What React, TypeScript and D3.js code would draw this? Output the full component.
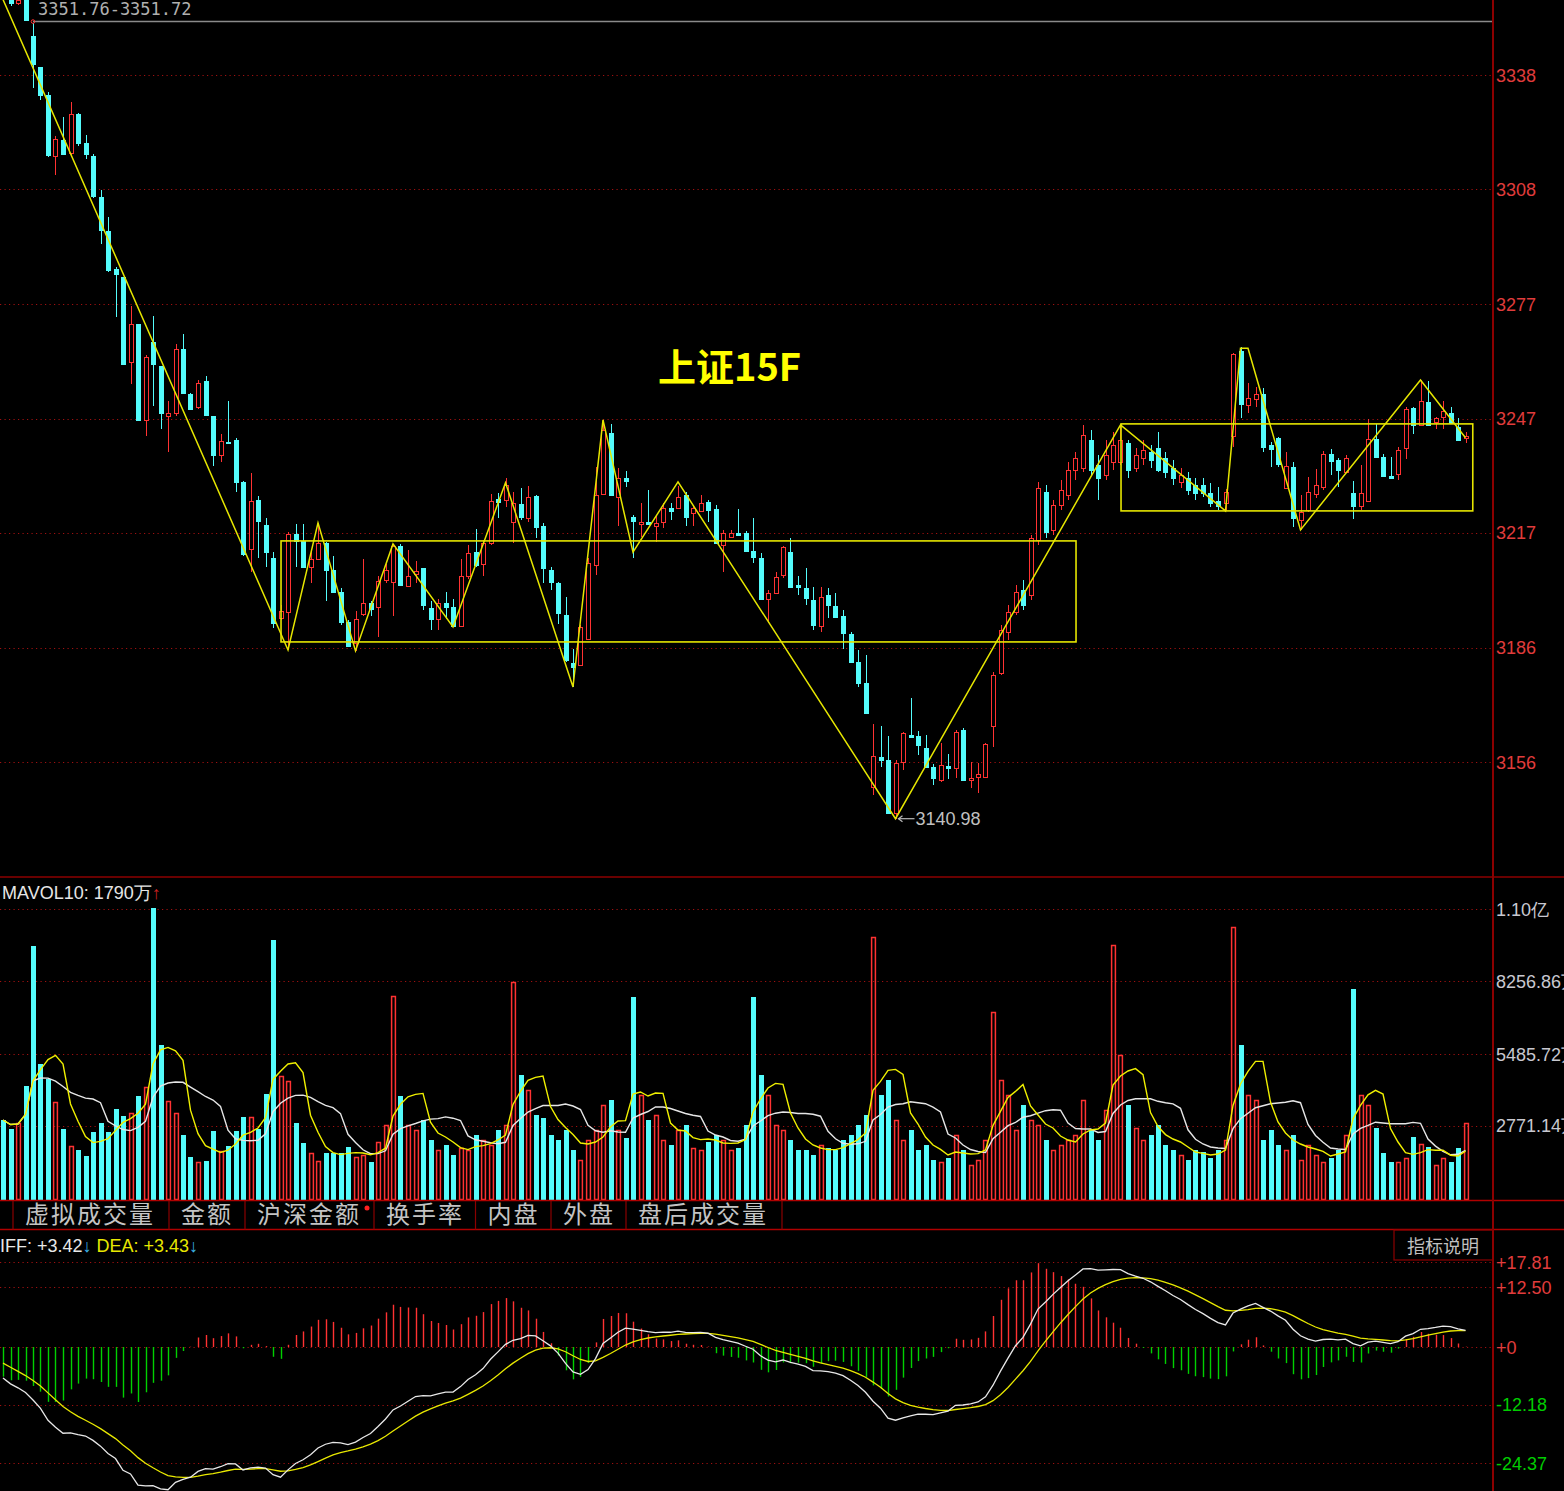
import React, { useEffect } from 'react';
import * as d3 from 'd3';

// ---------------- data ----------------
// [open, high, low, close] per 15-minute bar (index 0 is above the visible area)
const ohlc: [number, number, number, number][] = [
  [3364, 3366, 3359.5, 3361],
  [3358.6, 3359.8, 3356.4, 3357.0], [3357.0, 3358.8, 3356.5, 3357.9], [3359.5, 3360.0, 3352.2, 3352.6],
  [3348.36, 3351.76, 3334.58, 3340.94], [3340.15, 3340.15, 3331.4, 3332.73], [3332.73, 3333.52, 3316.3, 3316.83],
  [3316.56, 3321.87, 3311.53, 3321.07], [3320.8, 3326.91, 3316.83, 3317.09], [3317.36, 3330.87, 3316.83, 3327.7],
  [3327.7, 3327.97, 3319.22, 3320.01], [3320.01, 3322.13, 3315.77, 3317.09], [3316.56, 3317.09, 3305.43, 3305.97],
  [3305.7, 3307.56, 3293.24, 3296.95], [3296.69, 3300.4, 3285.82, 3286.35], [3286.62, 3287.14, 3273.9, 3285.29],
  [3284.5, 3284.5, 3261.2, 3261.46], [3261.99, 3276.83, 3256.16, 3272.06], [3272.06, 3272.06, 3246.37, 3246.63],
  [3246.63, 3263.85, 3242.35, 3263.32], [3267.29, 3274.18, 3250.34, 3261.46], [3260.93, 3260.93, 3244.24, 3248.48],
  [3247.69, 3251.67, 3238.15, 3248.48], [3248.48, 3266.76, 3247.69, 3265.44], [3265.44, 3269.41, 3253.5, 3253.78],
  [3253.51, 3253.78, 3249.28, 3249.54], [3250.07, 3257.22, 3249.54, 3256.43], [3256.96, 3258.28, 3247.7, 3247.96],
  [3247.69, 3247.69, 3234.44, 3237.36], [3237.36, 3242.92, 3235.5, 3241.07], [3240.8, 3251.67, 3240.3, 3240.54],
  [3241.33, 3241.86, 3227.55, 3230.2], [3230.2, 3230.47, 3210.59, 3211.12], [3212.45, 3232.59, 3206.35, 3225.17],
  [3225.43, 3226.49, 3210.06, 3219.87], [3218.81, 3220.66, 3207.68, 3211.65], [3210.06, 3211.65, 3191.52, 3192.85],
  [3194.17, 3197.61, 3193.64, 3196.02], [3195.76, 3216.95, 3185.69, 3216.42], [3216.42, 3219.07, 3207.68, 3214.57],
  [3214.57, 3219.07, 3207.41, 3207.68], [3207.68, 3212.18, 3203.44, 3209.8], [3209.8, 3219.34, 3209.53, 3214.04],
  [3214.04, 3214.3, 3198.67, 3206.88], [3206.88, 3210.59, 3200.79, 3201.05], [3201.05, 3202.11, 3192.31, 3193.11],
  [3193.11, 3193.64, 3186.49, 3186.75], [3187.55, 3196.02, 3185.43, 3193.9], [3195.23, 3209.8, 3194.7, 3198.14],
  [3198.14, 3198.67, 3194.7, 3196.55], [3197.08, 3205.29, 3189.13, 3203.97], [3204.23, 3208.47, 3203.44, 3206.88],
  [3203.7, 3213.77, 3194.7, 3213.24], [3213.24, 3213.77, 3202.64, 3202.91], [3202.64, 3212.18, 3202.4, 3205.29],
  [3205.82, 3209.27, 3203.44, 3206.62], [3207.41, 3207.41, 3196.29, 3197.61], [3196.82, 3198.67, 3190.99, 3193.9],
  [3193.9, 3199.2, 3190.99, 3198.14], [3198.14, 3201.05, 3193.9, 3197.08], [3197.08, 3199.2, 3191.78, 3192.05],
  [3192.05, 3209.8, 3191.78, 3205.29], [3205.29, 3213.51, 3204.5, 3211.39], [3211.65, 3217.74, 3207.68, 3208.21],
  [3208.47, 3214.83, 3205.29, 3214.04], [3214.04, 3227.02, 3213.51, 3225.17], [3225.7, 3227.29, 3220.66, 3224.9],
  [3225.43, 3231.26, 3223.58, 3229.4], [3219.6, 3227.55, 3214.04, 3224.64], [3224.37, 3228.61, 3220.13, 3220.93],
  [3220.66, 3229.14, 3219.6, 3226.23], [3226.49, 3226.76, 3215.36, 3218.28], [3218.54, 3219.34, 3203.44, 3207.41],
  [3206.88, 3207.68, 3201.58, 3203.7], [3203.44, 3203.7, 3192.58, 3195.49], [3194.96, 3199.73, 3182.51, 3183.04],
  [3182.25, 3185.96, 3175.89, 3181.19], [3181.72, 3192.31, 3181.45, 3191.78], [3188.6, 3210.06, 3188.34, 3208.74],
  [3208.21, 3234.18, 3205.56, 3226.76], [3227.02, 3246.63, 3226.76, 3243.98], [3243.19, 3245.57, 3226.49, 3226.76],
  [3226.23, 3233.91, 3218.54, 3231.26], [3231.26, 3233.12, 3228.88, 3230.47], [3220.93, 3221.46, 3210.06, 3219.87],
  [3219.07, 3224.64, 3215.63, 3219.6], [3219.6, 3228.08, 3218.8, 3219.07], [3218.54, 3221.46, 3214.3, 3219.34],
  [3219.6, 3224.64, 3217.95, 3223.31], [3223.31, 3224.64, 3220.13, 3222.52], [3223.31, 3229.14, 3223.05, 3226.23],
  [3226.76, 3227.55, 3218.54, 3220.93], [3221.99, 3224.11, 3218.54, 3223.31], [3222.52, 3226.76, 3222.25, 3224.64],
  [3224.9, 3225.43, 3219.6, 3222.78], [3223.05, 3224.11, 3213.77, 3214.04], [3213.51, 3217.48, 3206.35, 3216.69],
  [3215.63, 3217.48, 3215.36, 3216.69], [3216.69, 3223.05, 3215.9, 3216.16], [3216.69, 3217.22, 3211.65, 3211.92],
  [3211.92, 3220.66, 3208.74, 3210.33], [3210.06, 3211.39, 3198.94, 3199.2], [3199.2, 3201.58, 3192.85, 3200.79],
  [3200.79, 3206.35, 3200.5, 3205.03], [3205.56, 3213.2, 3204.76, 3212.98], [3211.65, 3215.36, 3202.11, 3202.38],
  [3202.91, 3205.29, 3200.26, 3202.38], [3202.11, 3207.41, 3197.61, 3199.47], [3198.94, 3202.38, 3190.99, 3192.31],
  [3192.05, 3202.38, 3190.46, 3199.73], [3200.26, 3202.11, 3194.17, 3197.61], [3197.35, 3200.79, 3194.2, 3194.43],
  [3194.7, 3196.29, 3185.96, 3190.2], [3189.93, 3190.4, 3182.3, 3182.51], [3182.51, 3185.69, 3175.89, 3176.94],
  [3176.94, 3184.37, 3168.7, 3169.0], [3149.41, 3166.09, 3147.29, 3157.62], [3157.35, 3165.56, 3154.7, 3156.55],
  [3156.55, 3162.91, 3142.25, 3142.52], [3142.52, 3156.55, 3140.98, 3155.76], [3156.02, 3163.97, 3153.9, 3163.71],
  [3163.18, 3172.98, 3162.4, 3162.65], [3162.91, 3164.24, 3157.88, 3160.53], [3159.73, 3163.18, 3154.43, 3154.7],
  [3154.7, 3155.49, 3149.93, 3151.78], [3151.25, 3161.05, 3150.72, 3155.23], [3154.96, 3158.14, 3151.51, 3154.43],
  [3154.43, 3164.5, 3151.78, 3163.97], [3164.5, 3165.03, 3150.98, 3151.25], [3151.25, 3156.02, 3149.14, 3151.78],
  [3152.05, 3155.76, 3147.81, 3152.84], [3152.05, 3161.05, 3151.78, 3160.79], [3165.56, 3179.86, 3159.99, 3179.07],
  [3179.6, 3192.31, 3179.07, 3190.99], [3190.46, 3197.61, 3188.34, 3195.76], [3195.76, 3202.91, 3194.96, 3201.05],
  [3201.58, 3204.23, 3196.29, 3197.61], [3200.26, 3216.16, 3198.94, 3215.36], [3214.83, 3230.2, 3213.51, 3228.61],
  [3227.55, 3229.4, 3215.36, 3216.95], [3217.48, 3225.43, 3216.16, 3224.11], [3224.11, 3230.73, 3222.78, 3228.08],
  [3226.76, 3235.5, 3225.43, 3233.38], [3233.38, 3238.15, 3230.73, 3236.56], [3233.91, 3245.31, 3232.85, 3242.66],
  [3241.33, 3243.98, 3232.06, 3233.38], [3234.71, 3237.36, 3225.43, 3231.26], [3232.06, 3241.33, 3230.73, 3237.36],
  [3235.5, 3243.45, 3233.38, 3240.01], [3235.5, 3245.31, 3234.71, 3241.33], [3240.54, 3241.33, 3231.26, 3233.38],
  [3233.91, 3239.21, 3232.85, 3237.36], [3236.56, 3241.33, 3234.71, 3238.68], [3238.15, 3240.01, 3233.91, 3236.03],
  [3239.21, 3243.45, 3232.85, 3233.38], [3236.56, 3238.15, 3231.26, 3232.85], [3233.91, 3236.03, 3229.4, 3231.26],
  [3230.2, 3233.91, 3228.61, 3232.06], [3231.26, 3232.85, 3226.76, 3228.08], [3229.4, 3231.26, 3225.43, 3227.29],
  [3229.4, 3231.26, 3226.23, 3227.29], [3227.29, 3229.94, 3223.58, 3224.64], [3225.17, 3228.88, 3222.78, 3223.84],
  [3224.64, 3228.35, 3222.52, 3227.55], [3242.39, 3264.37, 3239.47, 3264.11], [3264.9, 3265.97, 3247.16, 3250.87],
  [3250.6, 3256.43, 3248.48, 3252.46], [3252.2, 3255.37, 3250.07, 3253.51], [3253.51, 3255.1, 3238.15, 3239.47],
  [3240.01, 3240.8, 3234.18, 3238.95], [3241.86, 3242.12, 3234.18, 3234.97], [3228.61, 3238.15, 3228.35, 3234.44],
  [3234.18, 3235.5, 3218.28, 3220.66], [3220.13, 3226.76, 3217.48, 3222.25], [3222.78, 3231.53, 3222.25, 3227.55],
  [3227.02, 3233.65, 3225.96, 3229.4], [3228.88, 3238.42, 3228.08, 3237.62], [3237.62, 3238.95, 3232.06, 3235.77],
  [3236.03, 3236.56, 3228.88, 3233.38], [3232.85, 3237.36, 3232.59, 3236.56], [3227.29, 3230.47, 3220.4, 3223.84],
  [3223.84, 3234.71, 3222.78, 3227.29], [3225.17, 3246.9, 3224.9, 3241.6], [3241.6, 3245.57, 3236.56, 3236.83],
  [3236.83, 3237.62, 3231.53, 3231.79], [3231.79, 3236.83, 3231.0, 3231.26], [3232.32, 3239.47, 3230.73, 3238.68],
  [3239.21, 3250.07, 3236.3, 3249.54], [3249.81, 3250.07, 3242.92, 3245.31], [3245.31, 3257.22, 3245.04, 3251.67],
  [3251.4, 3256.96, 3245.04, 3245.31], [3246.1, 3247.43, 3244.24, 3247.16], [3247.43, 3251.67, 3244.24, 3249.01],
  [3248.48, 3250.07, 3245.57, 3245.84], [3244.78, 3247.16, 3241.07, 3241.33], [3241.86, 3243.45, 3240.54, 3242.39],
];

// volume per bar, in 万
const volumes: number[] = [
  2996, 2655, 2883, 4286, 9596, 5121, 4552, 3679, 2655, 2010,
  1859, 1631, 2541, 2883, 2541, 3414, 3148, 3262, 3907, 4248,
  11038, 5841, 3717, 3262, 2428, 1593, 1403, 1441, 2579, 1821,
  2010, 2579, 3110, 3110, 2655, 3983, 9824, 4665, 4476, 2883,
  2124, 1745, 1441, 1745, 1745, 1745, 1972, 1593, 1669, 1403,
  2162, 2807, 7700, 3907, 2807, 2617, 2996, 2238, 1859, 2048,
  1669, 1934, 1859, 2428, 2238, 2048, 2617, 2807, 8231, 4703,
  4134, 3186, 3072, 2428, 2238, 2617, 1859, 1479, 2238, 2617,
  3565, 3755, 2617, 2314, 7662, 3945, 2996, 3186, 2238, 2048,
  2617, 2807, 1934, 1859, 2162, 2428, 2238, 1859, 1934, 2807,
  7662, 4703, 3945, 2807, 2617, 2238, 1859, 1859, 1669, 2048,
  1934, 1859, 2238, 2428, 2807, 3186, 9938, 3945, 4514, 2996,
  2238, 2617, 1859, 2048, 1479, 1403, 1555, 2428, 1859, 1290,
  1479, 2238, 7093, 4514, 3945, 2617, 3565, 2996, 2807, 2238,
  1859, 2048, 2238, 2428, 3755, 2617, 2238, 3376, 9634, 5462,
  3565, 2693, 2238, 2428, 2807, 2048, 1859, 1669, 1479, 1859,
  1783, 1555, 1859, 2238, 10317, 5841, 3945, 3755, 2238, 2617,
  2048, 1859, 2428, 1479, 2048, 1669, 1403, 1555, 1859, 2428,
  7965, 3945, 3565, 2693, 1745, 1403, 1403, 1555, 2352, 2086,
  1972, 1290, 1555, 1403, 1934, 2883,
];

const priceTickValues = [3338, 3307.67, 3277.33, 3247, 3216.67, 3186.33, 3156];
const priceTickLabels = ['3338', '3308', '3277', '3247', '3217', '3186', '3156'];
const volTickValues = [11000, 8256.86, 5485.72, 2771.14];
const volTickLabels = ['1.10亿', '8256.86万', '5485.72万', '2771.14万'];
const macdTickValues = [17.81, 12.5, 0, -12.18, -24.37];
const macdTickLabels = ['+17.81', '+12.50', '+0', '-12.18', '-24.37'];

// hand-drawn zigzag: [bar index, price]
const zigzag: [number, number][] = [
  [0, 3358], [38, 3185.69], [42, 3219.34], [47, 3185.43], [52, 3213.77], [60, 3191.78],
  [67, 3230.0], [76, 3175.89], [80, 3246.63], [84, 3211.6], [90, 3230.2], [119, 3140.98],
  [149, 3245.31], [163, 3222.52], [165, 3265.6], [166, 3265.6], [173, 3217.48], [189, 3257.22], [195, 3241.9],
];
// consolidation boxes: [startIndex, endIndex, lowPrice, highPrice]
const boxes: [number, number, number, number][] = [
  [37.07, 143.07, 3187.81, 3214.57],
  [149.07, 195.97, 3222.52, 3245.57],
];

const highIndex = 4;
const highPrice = 3351.76;
const highLabel = '3351.76-3351.72';
const lowIndex = 119;
const lowPrice = 3140.98;
const lowLabel = '3140.98';
const titleText = '上证15F';
const mavolLabel = 'MAVOL10: 1790万';
const diffLabel = 'DIFF: +3.42';
const deaLabel = 'DEA: +3.43';
const tabNames = ['虚拟成交量', '金额', '沪深金额', '换手率', '内盘', '外盘', '盘后成交量'];
// prior EMA state before the first bar
const macdSeed = { ema12: 3382, ema26: 3387.2, dea: -2.6 };

// ---------------- layout ----------------
const W = 1564;
const H = 1491;
const AXIS_X = 1493;
const PRICE_BOTTOM = 877;
const VOL_TOP = 877;
const VOL_BOTTOM = 1199;
const TAB_TOP = 1201;
const TAB_BOTTOM = 1229.5;
const MACD_TOP = 1230;
const tabDividers = [13, 169, 245, 374, 475.5, 551, 626, 782];

const UP = '#ff3232';
const DOWN = '#54fcfc';
const GRID = '#a01010';
const FRAME = '#8c0000';
const SANS = '"Liberation Sans", Arial, sans-serif';
const CJK = '"Noto Sans CJK SC", "Noto Sans", sans-serif';

export default function App() {
  useEffect(() => {
    document.body.style.margin = '0';
    document.body.style.background = '#000';
  }, []);

  const n = ohlc.length;
  const x = d3.scaleLinear().domain([0, n - 1]).range([3, 3 + 7.5 * (n - 1)]);
  const py = d3.scaleLinear().domain([3156, 3338]).range([762, 75]);
  const vy = d3.scaleLinear().domain([0, 11000]).range([VOL_BOTTOM, 909]);
  const my = d3.scaleLinear().domain([0, 17.81]).range([1347, 1262.2]);

  const cxOf = (j: number) => Math.round(x(j)) + 0.5;
  const snap = (v: number) => Math.round(v) + 0.5;

  // volume moving averages
  const ma = (len: number) =>
    volumes.map((_, j) => d3.mean(volumes.slice(Math.max(0, j - len + 1), j + 1)) as number);
  const ma5 = ma(5);
  const ma10 = ma(10);

  // MACD
  let e12 = macdSeed.ema12;
  let e26 = macdSeed.ema26;
  let dea = macdSeed.dea;
  const macd = ohlc.map(([, , , c]) => {
    e12 = e12 + (2 / 13) * (c - e12);
    e26 = e26 + (2 / 27) * (c - e26);
    const diff = e12 - e26;
    dea = dea + 0.2 * (diff - dea);
    return { diff, dea, hist: 2 * (diff - dea) };
  });

  const volLine = d3.line<number>().x((_, j) => x(j)).y((v) => vy(v));
  const diffLine = d3.line<{ diff: number }>().x((_, j) => x(j)).y((d) => my(d.diff));
  const deaLine = d3.line<{ dea: number }>().x((_, j) => x(j)).y((d) => my(d.dea));
  const zigLine = d3.line<[number, number]>().x((d) => x(d[0])).y((d) => py(d[1]));

  const candles = ohlc.map(([o, h, l, c], j) => {
    const cx = cxOf(j);
    const up = c >= o;
    const yT = snap(py(Math.max(o, c)));
    const yB = snap(py(Math.min(o, c)));
    const yH = py(h);
    const yL = py(l);
    if (up) {
      return (
        <g key={j} stroke={UP} strokeWidth={1} fill="none" shapeRendering="crispEdges">
          <line x1={cx} x2={cx} y1={yH} y2={yT} />
          <line x1={cx} x2={cx} y1={yB} y2={yL} />
          {yB - yT < 1 ? (
            <line x1={cx - 2.5} x2={cx + 2.5} y1={yT} y2={yT} />
          ) : (
            <rect x={cx - 2} y={yT} width={4} height={yB - yT} fill="#000" />
          )}
        </g>
      );
    }
    return (
      <g key={j} shapeRendering="crispEdges">
        <line x1={cx} x2={cx} y1={yH} y2={yL} stroke={DOWN} strokeWidth={1} />
        <rect x={cx - 2.5} y={yT - 0.5} width={5} height={Math.max(1, yB - yT + 1)} fill={DOWN} />
      </g>
    );
  });

  const volBars = volumes.map((v, j) => {
    const [o, , , c] = ohlc[j];
    const cx = cxOf(j);
    const top = snap(vy(v));
    if (c >= o) {
      return (
        <rect key={j} x={cx - 1.9} y={top} width={3.8} height={VOL_BOTTOM + 0.5 - top}
          fill="none" stroke={UP} strokeWidth={1.5} />
      );
    }
    return (
      <rect key={j} x={cx - 2.5} y={top - 0.5} width={5} height={VOL_BOTTOM + 1 - top} fill={DOWN}
        shapeRendering="crispEdges" />
    );
  });

  const hist = macd.map((d, j) => {
    const cx = cxOf(j);
    return (
      <line key={j} x1={cx} x2={cx} y1={my(0)} y2={my(d.hist)}
        stroke={d.hist >= 0 ? '#ff3232' : '#00d000'} strokeWidth={1.4} />
    );
  });

  const lowX = x(lowIndex);
  const lowY = py(lowPrice);
  const highY = py(highPrice);

  return (
    <div style={{ position: 'fixed', left: 0, top: 0, width: W, height: H, background: '#000', overflow: 'hidden' }}>
      <svg width={W} height={H} style={{ display: 'block', background: '#000' }}>
        <defs>
          <clipPath id="pc"><rect x={0} y={0} width={AXIS_X} height={PRICE_BOTTOM} /></clipPath>
          <clipPath id="vc"><rect x={0} y={VOL_TOP + 1} width={AXIS_X} height={VOL_BOTTOM - VOL_TOP} /></clipPath>
          <clipPath id="mc"><rect x={0} y={MACD_TOP + 1} width={AXIS_X} height={H - MACD_TOP} /></clipPath>
        </defs>

        {/* grid lines */}
        <g stroke={GRID} strokeWidth={1} strokeDasharray="1.2 3.3">
          {priceTickValues.map((v, i) => (
            <line key={'pg' + i} x1={0} x2={AXIS_X} y1={snap(py(v))} y2={snap(py(v))} />
          ))}
          {volTickValues.map((v, i) => (
            <line key={'vg' + i} x1={0} x2={AXIS_X} y1={snap(vy(v))} y2={snap(vy(v))} />
          ))}
          {macdTickValues.map((v, i) => (
            <line key={'mg' + i} x1={0} x2={AXIS_X} y1={snap(my(v))} y2={snap(my(v))} />
          ))}
        </g>

        {/* price panel */}
        <g clipPath="url(#pc)">
          <line x1={x(highIndex)} x2={AXIS_X} y1={highY - 1.5} y2={highY - 1.5} stroke="#8a8a8a" strokeWidth={1.5} />
          {candles}
          <circle cx={x(highIndex)} cy={highY - 1.5} r={1.8} fill="none" stroke="#ff3030" strokeWidth={1} />
          <path d={zigLine(zigzag) || ''} fill="none" stroke="#e6e600" strokeWidth={1.5} />
          {boxes.map(([a, b, lo, hi], i) => (
            <rect key={i} x={x(a)} y={py(hi)} width={x(b) - x(a)} height={py(lo) - py(hi)}
              fill="none" stroke="#e6e600" strokeWidth={1.6} />
          ))}
          <text x={38} y={15} fontFamily='"DejaVu Sans Mono", monospace' fontSize={17} fill="#b0b0b0">
            {highLabel}
          </text>
          <text x={658} y={381} fontFamily={CJK} fontWeight={700} fontSize={38} fill="#ffff00">
            {titleText}
          </text>
          <g stroke="#b8b8b8" strokeWidth={1.2} fill="none">
            <line x1={lowX + 3} x2={lowX + 19} y1={lowY} y2={lowY} />
            <path d={`M${lowX + 7},${lowY - 3} L${lowX + 3},${lowY} L${lowX + 7},${lowY + 3}`} />
          </g>
          <text x={lowX + 20} y={lowY + 6.5} fontFamily={SANS} fontSize={18} fill="#c0c0c0">{lowLabel}</text>
        </g>

        {/* volume panel */}
        <g clipPath="url(#vc)">
          {volBars}
          <path d={volLine(ma10) || ''} fill="none" stroke="#e6e6e6" strokeWidth={1.4} />
          <path d={volLine(ma5) || ''} fill="none" stroke="#f0f000" strokeWidth={1.4} />
        </g>
        <text x={2} y={899} fontFamily={SANS} fontSize={18} fill="#e6e6e6">
          {mavolLabel}
          <tspan fill="#d02020">↑</tspan>
        </text>

        {/* MACD panel */}
        <g clipPath="url(#mc)">
          {hist}
          <path d={deaLine(macd) || ''} fill="none" stroke="#e8e800" strokeWidth={1.3} />
          <path d={diffLine(macd) || ''} fill="none" stroke="#e8e8e8" strokeWidth={1.3} />
        </g>
        <text x={-13} y={1252} fontFamily={SANS} fontSize={18} fill="#e8e8e8">
          {diffLabel}
          <tspan fill="#3cb4e6">↓</tspan>
          <tspan fill="#e8e800" dx={5}>{deaLabel}</tspan>
          <tspan fill="#3cb4e6">↓</tspan>
        </text>

        {/* frame lines */}
        <g stroke={FRAME} fill="none">
          <line x1={0} x2={W} y1={PRICE_BOTTOM} y2={PRICE_BOTTOM} strokeWidth={1.5} />
          <line x1={0} x2={W} y1={TAB_TOP - 0.5} y2={TAB_TOP - 0.5} strokeWidth={1.5} stroke="#b00000" />
          <line x1={0} x2={W} y1={TAB_BOTTOM} y2={TAB_BOTTOM} strokeWidth={1.5} stroke="#b00000" />
          <line x1={AXIS_X} x2={AXIS_X} y1={0} y2={H} strokeWidth={2} />
          {tabDividers.map((d, i) => (
            <line key={i} x1={d} x2={d} y1={TAB_TOP} y2={TAB_BOTTOM} strokeWidth={1.2} />
          ))}
          <rect x={1394} y={MACD_TOP} width={AXIS_X - 1394} height={30} strokeWidth={1.2} />
        </g>

        {/* tab bar */}
        {tabNames.map((t, i) => (
          <text key={t} x={tabDividers[i] + 12} y={1223} fontFamily={CJK} fontSize={24} letterSpacing={2}
            fill="#c4c4c4">{t}</text>
        ))}
        <circle cx={367} cy={1208} r={2.5} fill="#ff2020" />
        <text x={1407} y={1253} fontFamily={CJK} fontSize={18} fill="#c0c0c0">指标说明</text>

        {/* right axis labels */}
        {priceTickValues.map((v, i) => (
          <text key={'pl' + i} x={1496} y={py(v) + 6.5} fontFamily={SANS} fontSize={18} fill="#e03c3c">
            {priceTickLabels[i]}
          </text>
        ))}
        {volTickValues.map((v, i) => (
          <text key={'vl' + i} x={1496} y={vy(v) + 6.5} fontFamily={SANS} fontSize={18} fill="#c8c8d0">
            {volTickLabels[i]}
          </text>
        ))}
        {macdTickValues.map((v, i) => (
          <text key={'ml' + i} x={1496} y={my(v) + 6.5} fontFamily={SANS} fontSize={18}
            fill={v < 0 ? '#00cc00' : '#e03c3c'}>
            {macdTickLabels[i]}
          </text>
        ))}
      </svg>
    </div>
  );
}
